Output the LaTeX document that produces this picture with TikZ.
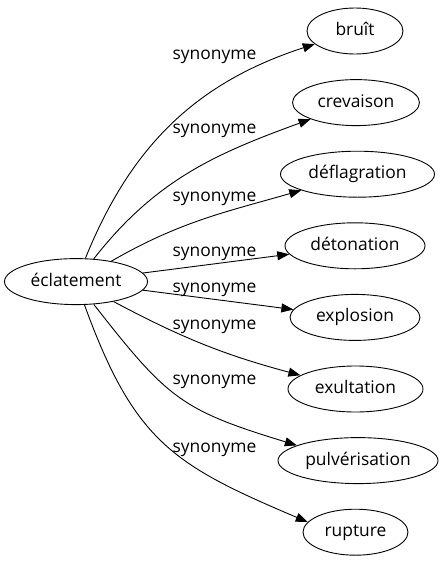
\documentclass[tikz,border=0pt]{standalone}
\usepackage{fontspec}
\setmainfont{Open Sans}
\usetikzlibrary{shapes.geometric,arrows.meta}
\begin{document}
\begin{tikzpicture}[x=1pt,y=1pt,
  every node/.style={font=\fontsize{17.4}{20}\selectfont},
  term/.style={draw, ellipse, line width=0.9pt, minimum height=46pt, inner sep=0pt, text height=13pt, text depth=4pt},
  lbl/.style={inner sep=0pt, anchor=base},
  syn/.style={draw, line width=0.9pt, -{Triangle[length=12pt,width=9pt]}}
]
\useasboundingbox (0,0) rectangle (444,-563);
\node[term, minimum width=143pt] (src) at (76,-281.6) {éclatement};
\node[term, minimum width=96pt]  (n1) at (355,-31)    {bruît};
\node[term, minimum width=127pt] (n2) at (356,-102.6) {crevaison};
\node[term, minimum width=154pt] (n3) at (357.5,-174.2) {déflagration};
\node[term, minimum width=140pt] (n4) at (355,-245.8) {détonation};
\node[term, minimum width=130pt] (n5) at (355,-317.4) {explosion};
\node[term, minimum width=135pt] (n6) at (355.5,-389) {exultation};
\node[term, minimum width=160pt] (n7) at (358,-460.6) {pulvérisation};
\node[term, minimum width=105pt] (n8) at (355.5,-532.2) {rupture};

\draw[syn] (src) to[out=68,in=198] (n1);
\draw[syn] (src) to[out=52,in=200] (n2);
\draw[syn] (src) to[out=30,in=196] (n3);
\draw[syn] (src) -- (n4);
\draw[syn] (src) -- (n5);
\draw[syn] (src) to[out=-28,in=165] (n6.166);
\draw[syn] (src) to[out=-52,in=163,looseness=1.25] (n7.166);
\draw[syn] (src) to[out=-70,in=157,looseness=1.2] (n8.168);

\node[lbl] (l1) at (214.5,-59)  {synonyme};
\node[lbl] (l2) at (214.5,-133) {synonyme};
\node[lbl] (l3) at (214.5,-201) {synonyme};
\node[lbl] (l4) at (214.5,-256) {synonyme};
\node[lbl] (l5) at (214.5,-292) {synonyme};
\node[lbl] (l6) at (214.5,-329) {synonyme};
\node[lbl] (l7) at (214.5,-384) {synonyme};
\node[lbl] (l8) at (214.5,-452) {synonyme};
\end{tikzpicture}
\end{document}
